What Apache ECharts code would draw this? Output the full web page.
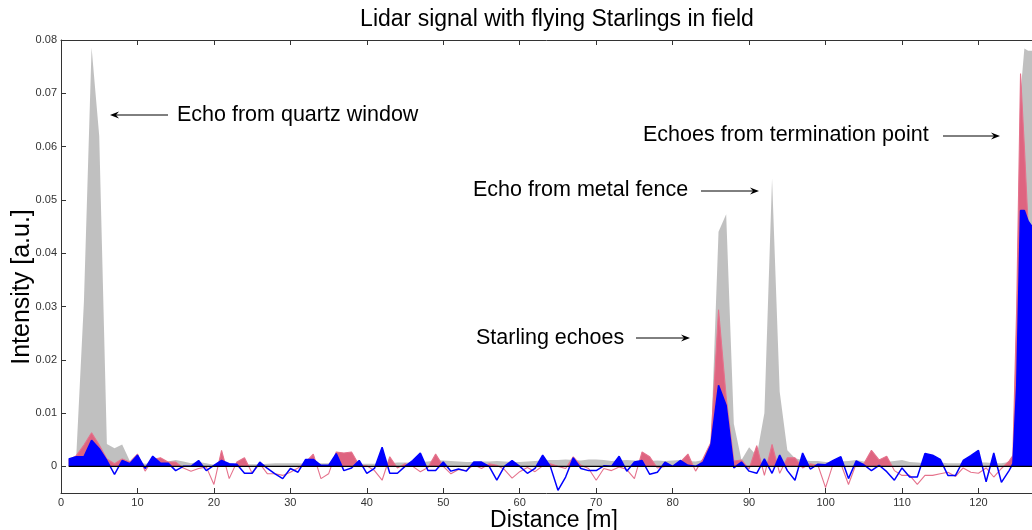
<!DOCTYPE html>
<html>
<head>
<meta charset="utf-8">
<script src="https://cdn.jsdelivr.net/npm/echarts@6/dist/echarts.min.js"></script>
<style>html,body{margin:0;padding:0;background:#fff}#c{width:1032px;height:530px}</style>
</head>
<body>
<div id="c"></div>
<script>
// Distance [m]
const distance = [
  1,2,3,4,5,6,7,8,9,10,
  11,12,13,14,15,16,17,18,19,20,
  21,22,23,24,25,26,27,28,29,30,
  31,32,33,34,35,36,37,38,39,40,
  41,42,43,44,45,46,47,48,49,50,
  51,52,53,54,55,56,57,58,59,60,
  61,62,63,64,65,66,67,68,69,70,
  71,72,73,74,75,76,77,78,79,80,
  81,82,83,84,85,86,87,88,89,90,
  91,92,93,94,95,96,97,98,99,100,
  101,102,103,104,105,106,107,108,109,110,
  111,112,113,114,115,116,117,118,119,120,
  121,122,123,124,124.5,125,125.5,126,126.5,127
];
// Grey signal
const graySignal = [
  0.0012,0.0020,0.0310,0.0786,0.0620,0.0042,0.0034,0.0041,0.0010,0.0008,
  0.0005,0.0006,0.0010,0.0009,0.0012,0.0009,0.0006,0.0008,0.0006,0.0003,
  0.0005,0.0005,0.0004,0.0004,0.0004,0.0004,0.0005,0.0006,0.0006,0.0006,
  0.0006,0.0005,0.0005,0.0006,0.0006,0.0007,0.0006,0.0006,0.0005,0.0005,
  0.0005,0.0006,0.0006,0.0007,0.0007,0.0007,0.0008,0.0009,0.0011,0.0011,
  0.0010,0.0009,0.0008,0.0008,0.0009,0.0009,0.0010,0.0009,0.0008,0.0008,
  0.0009,0.0010,0.0011,0.0012,0.0012,0.0013,0.0012,0.0011,0.0013,0.0013,
  0.0012,0.0010,0.0011,0.0012,0.0011,0.0010,0.0010,0.0011,0.0010,0.0011,
  0.0012,0.0010,0.0009,0.0012,0.0040,0.0440,0.0473,0.0080,0.0012,0.0036,
  0.0020,0.0100,0.0540,0.0140,0.0030,0.0015,0.0012,0.0010,0.0010,0.0008,
  0.0008,0.0009,0.0010,0.0012,0.0009,0.0008,0.0007,0.0008,0.0010,0.0012,
  0.0008,0.0007,0.0006,0.0007,0.0007,0.0006,0.0006,0.0006,0.0007,0.0007,
  0.0007,0.0006,0.0006,0.0008,0.0020,0.0300,0.0700,0.0784,0.0780,0.0780
];
// Red (pink) signal
const redSignal = [
  0.0012,0.0020,0.0040,0.0063,0.0040,0.0014,0.0005,0.0014,0.0008,0.0023,
  -0.0009,0.0013,0.0016,0.0008,0.0008,-0.0003,-0.0009,-0.0004,-0.0001,-0.0034,
  0.0030,-0.0023,0.0008,0.0016,-0.0013,0.0005,-0.0014,-0.0014,-0.0017,-0.0011,
  -0.0003,0.0008,0.0023,-0.0023,-0.0014,0.0027,0.0025,0.0027,0.0002,0.0001,
  -0.0008,-0.0026,0.0018,-0.0003,0.0005,0.0000,-0.0010,-0.0002,0.0023,0.0000,
  -0.0014,-0.0006,-0.0008,0.0003,-0.0004,0.0005,0.0002,-0.0006,-0.0022,-0.0010,
  -0.0002,-0.0010,0.0001,0.0005,0.0000,-0.0004,0.0018,0.0002,-0.0004,-0.0026,
  -0.0004,-0.0008,-0.0001,-0.0006,-0.0023,0.0027,0.0018,-0.0003,0.0000,0.0000,
  0.0008,0.0023,-0.0009,0.0015,0.0045,0.0294,0.0130,0.0010,0.0012,-0.0005,
  0.0039,-0.0017,0.0041,-0.0013,0.0016,0.0016,-0.0003,0.0005,0.0002,-0.0040,
  0.0005,0.0005,-0.0034,0.0005,0.0005,0.0030,0.0012,0.0019,-0.0008,-0.0017,
  -0.0017,-0.0034,-0.0017,-0.0017,-0.0014,-0.0011,-0.0019,-0.0003,-0.0011,-0.0013,
  -0.0003,-0.0020,-0.0004,0.0010,0.0020,0.0300,0.0737,0.0600,0.0450,0.0400
];
// Blue signal
const blueSignal = [
  0.0014,0.0018,0.0018,0.0049,0.0033,0.0011,-0.0015,0.0011,0.0005,0.0021,
  -0.0004,0.0019,0.0006,0.0006,-0.0008,0.0000,0.0000,0.0011,-0.0008,0.0002,
  0.0011,0.0005,0.0004,-0.0013,-0.0013,0.0008,-0.0004,-0.0014,-0.0023,-0.0004,
  -0.0011,0.0013,0.0013,0.0002,0.0002,0.0024,-0.0008,-0.0003,0.0011,-0.0013,
  -0.0004,0.0036,-0.0013,-0.0013,0.0000,0.0011,0.0025,-0.0008,-0.0008,0.0008,
  -0.0009,-0.0005,-0.0009,0.0008,0.0008,0.0000,-0.0026,0.0000,0.0011,0.0000,
  -0.0013,-0.0004,0.0021,0.0000,-0.0045,-0.0020,0.0016,-0.0004,-0.0008,-0.0008,
  0.0001,0.0000,0.0019,-0.0009,0.0008,0.0011,-0.0015,-0.0011,0.0008,0.0000,
  0.0011,0.0002,0.0000,0.0008,0.0040,0.0152,0.0114,-0.0003,0.0008,-0.0009,
  -0.0013,0.0014,-0.0013,0.0021,-0.0008,-0.0026,0.0025,-0.0005,0.0004,0.0003,
  0.0011,0.0018,-0.0023,0.0010,0.0003,-0.0008,0.0002,-0.0010,-0.0026,-0.0003,
  -0.0020,-0.0020,0.0024,0.0021,0.0013,-0.0017,-0.0017,0.0011,0.0020,0.0030,
  -0.0029,0.0025,-0.0030,-0.0008,0.0005,0.0150,0.0480,0.0480,0.0460,0.0450
];
const xTicks = [0,10,20,30,40,50,60,70,80,90,100,110,120];
const yTicks = [0,0.01,0.02,0.03,0.04,0.05,0.06,0.07,0.08];
const yTickLabels = ['0','0.01','0.02','0.03','0.04','0.05','0.06','0.07','0.08'];

const titleText = 'Lidar signal with flying Starlings in field';
const xName = 'Distance [m]';
const yName = 'Intensity [a.u.]';
const notes = [
  {text:'Echo from quartz window', tx:177, ty:115, from:168, to:110, ay:115},
  {text:'Echoes from termination point', tx:643, ty:135, from:943, to:1000, ay:136},
  {text:'Echo from metal fence', tx:473, ty:190, from:701, to:759, ay:191},
  {text:'Starling echoes', tx:476, ty:338, from:636, to:690, ay:338}
];

const FONT = '"Liberation Sans", Arial, Helvetica, sans-serif';
const pair = arr => distance.map((d, i) => [d, arr[i]]);

function arrow(x1, x2, y) {
  const s = x2 > x1 ? 1 : -1;
  return [
    {type:'line', shape:{x1:x1, y1:y, x2:x2 - s*4, y2:y}, style:{stroke:'#000', lineWidth:1}, z:100},
    {type:'polygon', shape:{points:[[x2,y],[x2 - s*9,y-3.5],[x2 - s*6,y],[x2 - s*9,y+3.5]]}, style:{fill:'#000'}, z:100}
  ];
}

const graphics = [
  {type:'text', style:{x:557, y:20, text:titleText, font:'23px ' + FONT, fill:'#000', textAlign:'center', textVerticalAlign:'middle'}},
  {type:'text', style:{x:554, y:521, text:xName, font:'23px ' + FONT, fill:'#000', textAlign:'center', textVerticalAlign:'middle'}},
  {type:'text', x:22, y:287, rotation:Math.PI/2, style:{x:0, y:0, text:yName, font:'25px ' + FONT, fill:'#000', textAlign:'center', textVerticalAlign:'middle'}}
];
notes.forEach(n => {
  graphics.push({type:'text', style:{x:n.tx, y:n.ty, text:n.text, font:'21.5px ' + FONT, fill:'#000', textAlign:'left', textVerticalAlign:'middle'}, z:100});
  arrow(n.from, n.to, n.ay).forEach(g => graphics.push(g));
});

const axisCommon = {
  type:'value',
  splitLine:{show:false},
  axisLine:{show:true, onZero:false, lineStyle:{color:'#333', width:1}},
  axisTick:{show:true, inside:true, length:5, lineStyle:{color:'#333'}}
};

function posVisual(idx, color) {
  return {show:false, type:'piecewise', seriesIndex:idx, dimension:1,
    pieces:[{gte:-1, lt:0, color:'rgba(255,255,255,0)'}, {gte:0, lte:1, color:color}]};
}

const chart = echarts.init(document.getElementById('c'), null, {renderer:'canvas'});
chart.setOption({
  animation:false,
  backgroundColor:'#fff',
  grid:{left:61, top:40, width:973, height:453},
  xAxis:[
    Object.assign({}, axisCommon, {min:0, max:127, position:'bottom',
      axisTick:Object.assign({}, axisCommon.axisTick, {customValues:xTicks}),
      axisLabel:{customValues:xTicks, color:'#333', fontSize:11, fontFamily:FONT, margin:4}}),
    Object.assign({}, axisCommon, {min:0, max:127, position:'top',
      axisTick:Object.assign({}, axisCommon.axisTick, {customValues:xTicks}),
      axisLabel:{show:false}})
  ],
  yAxis:[
    Object.assign({}, axisCommon, {min:-0.005, max:0.08, position:'left',
      axisTick:Object.assign({}, axisCommon.axisTick, {customValues:yTicks}),
      axisLabel:{customValues:yTicks, color:'#333', fontSize:11, fontFamily:FONT, margin:4,
        formatter:v => { const i = yTicks.findIndex(t => Math.abs(t - v) < 1e-9); return i >= 0 ? yTickLabels[i] : ''; }}}),
    Object.assign({}, axisCommon, {min:-0.005, max:0.08, position:'right',
      axisTick:Object.assign({}, axisCommon.axisTick, {customValues:yTicks}),
      axisLabel:{show:false}})
  ],
  visualMap:[
    posVisual(0, '#c0c0c0'),
    posVisual(1, '#de6480'),
    posVisual(2, '#0000ff')
  ],
  series:[
    {type:'line', data:pair(graySignal), showSymbol:false, lineStyle:{width:0, color:'#c0c0c0'}, areaStyle:{opacity:1}, z:1},
    {type:'line', data:pair(redSignal), showSymbol:false, lineStyle:{width:1.1, color:'#e5728c'}, areaStyle:{opacity:1}, z:2},
    {type:'line', data:pair(blueSignal), showSymbol:false, lineStyle:{width:1.5, color:'#0000ff'}, areaStyle:{opacity:1}, z:3},
    {type:'line', data:[[distance[0],0],[distance[distance.length-1],0]], showSymbol:false, lineStyle:{width:1.3, color:'#000'}, z:4}
  ],
  graphic:graphics
});
</script>
</body>
</html>
